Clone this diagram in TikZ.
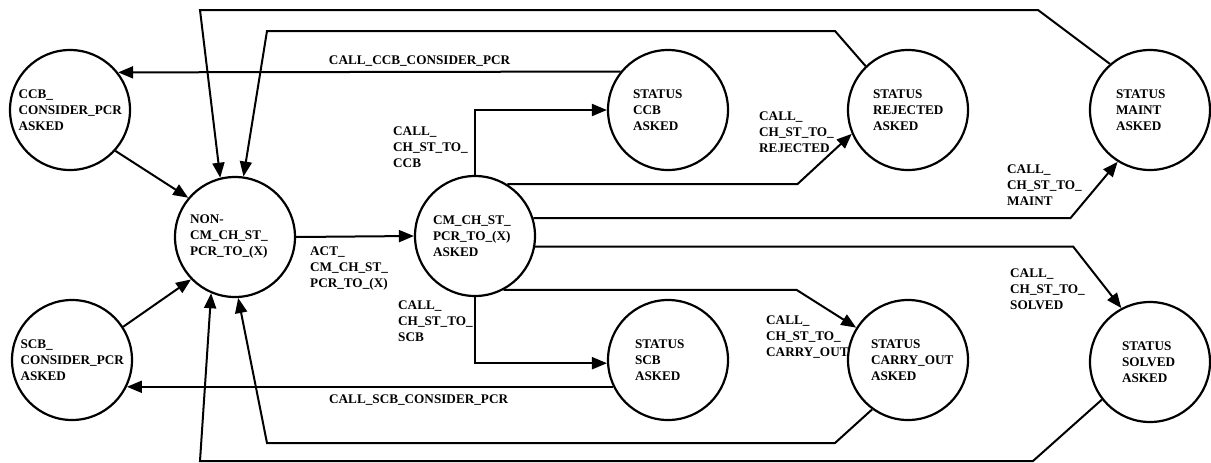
\documentclass[tikz,border=0pt]{standalone}
\usepackage{fontspec}
\setmainfont{Liberation Serif}
\usetikzlibrary{arrows.meta}

\begin{document}
\begin{tikzpicture}[x=1pt, y=-1pt, >={Triangle[length=15pt, width=12pt]},
  status/.style={circle, draw, line width=2.2pt, minimum size=120pt, inner sep=0pt,
    align=left, text width=70pt, font=\bfseries\fontsize{13.2}{16}\selectfont},
  lbl/.style={align=left, inner sep=0pt, anchor=north west, font=\bfseries\fontsize{13.2}{16}\selectfont},
  conn/.style={line width=2pt}]
  \useasboundingbox (0,0) rectangle (1211,463);

  % States on the left
  \node[status, text width=103pt] (ccb) at (70,110) {CCB\_\\CONSIDER\_PCR\\ASKED};
  \node[status, text width=103pt] (scb) at (72,360) {SCB\_\\CONSIDER\_PCR\\ASKED};
  \node[status, text width=90pt] (non) at (235,237) {NON-\\CM\_CH\_ST\_\\PCR\_TO\_(X)};
  \node[status, text width=84pt] (cm) at (475,236) {CM\_CH\_ST\_\\PCR\_TO\_(X)\\ASKED};

  % Status states
  \node[status] (stccb) at (668,110) {STATUS\\CCB\\ASKED};
  \node[status, text width=66pt] (stscb) at (668,360) {STATUS\\SCB\\ASKED};
  \node[status] (strej) at (908,110) {STATUS\\REJECTED\\ASKED};
  \node[status, text width=74pt] (stcarry) at (908,360) {STATUS\\CARRY\_OUT\\ASKED};
  \node[status, text width=68pt] (stmaint) at (1150,110) {STATUS\\MAINT\\ASKED};
  \node[status, text width=56pt] (stsolved) at (1150,362) {STATUS\\SOLVED\\ASKED};

  % Into NON-CM_CH_ST_PCR_TO_(X)
  \draw[conn, ->] (ccb.-42) -- (non.140);
  \draw[conn, ->] (scb.33) -- (non.224);
  \draw[conn, ->] (non.east) -- (cm.west);
  \node[lbl] (lact) at (310,247) {ACT\_\\CM\_CH\_ST\_\\PCR\_TO\_(X)};

  % Returns over the top
  \draw[conn, ->] (stmaint.131) -- (1038,10) -- (200,10) -- (non.104);
  \draw[conn, ->] (strej.134) -- (835,31) -- (267,31) -- (non.82);
  \draw[conn, ->] (stccb.141.9) -- (ccb.38.1)
    node[pos=0.4, above=5pt, inner sep=0pt, font=\bfseries\fontsize{13.2}{16}\selectfont] (lccbc) {CALL\_CCB\_CONSIDER\_PCR};

  % Returns along the bottom
  \draw[conn, ->] (stscb.206.7) -- (scb.-26.7)
    node[pos=0.4, below=7pt, inner sep=0pt, font=\bfseries\fontsize{13.2}{16}\selectfont] (lscbc) {CALL\_SCB\_CONSIDER\_PCR};
  \draw[conn, ->] (stcarry.234) -- (835,443) -- (267,443) -- (non.273);
  \draw[conn, ->] (stsolved.218.5) -- (1033,461) -- (200,461) -- (non.247);

  % Calls out of CM_CH_ST_PCR_TO_(X) ASKED
  \draw[conn, ->] (cm.north) |- (stccb.west);
  \node[lbl] (lccb) at (393,127) {CALL\_\\CH\_ST\_TO\_\\CCB};
  \draw[conn, ->] (cm.south) |- (stscb.183);
  \node[lbl] (lscb) at (398,301) {CALL\_\\CH\_ST\_TO\_\\SCB};
  \draw[conn, ->] (cm.58) -- ++(290,0) -- (strej.203);
  \node[lbl] (lrej) at (759,112) {CALL\_\\CH\_ST\_TO\_\\REJECTED};
  \draw[conn, ->] (cm.17) -- ++(537,0) -- (stmaint.238);
  \node[lbl] (lmaint) at (1007,165) {CALL\_\\CH\_ST\_TO\_\\MAINT};
  \draw[conn, ->] (cm.-10) -- ++(538,0) -- (stsolved.118);
  \node[lbl] (lsolved) at (1010,269) {CALL\_\\CH\_ST\_TO\_\\SOLVED};
  \draw[conn, ->] (cm.298) -- ++(293,0) -- (stcarry.148);
  \node[lbl] (lcarry) at (766,316) {CALL\_\\CH\_ST\_TO\_\\CARRY\_OUT};
\end{tikzpicture}
\end{document}
